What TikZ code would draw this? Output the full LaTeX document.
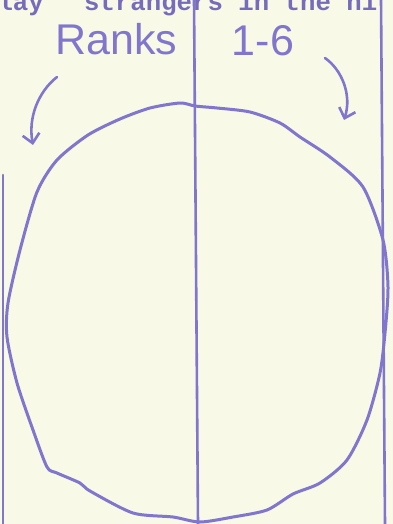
\documentclass[tikz,border=0pt]{standalone}
\usepackage{fontspec}
\usetikzlibrary{arrows.meta}
\newfontfamily\typew{Liberation Mono}
\newfontfamily\handf{Liberation Sans}
\definecolor{paper}{RGB}{249,249,232}
\definecolor{ink}{RGB}{128,118,205}
\definecolor{typeink}{RGB}{118,108,188}
\tikzset{
  rule/.style={draw=ink, line width=2.6pt, line cap=round},
  blob/.style={draw=ink, line width=3pt, line join=round},
  handarrow/.style={draw=ink, line width=2.6pt, line cap=round,
    -{Straight Barb[length=9pt,width=17pt,line width=2.6pt]}},
  typed/.style={inner sep=0pt, text=typeink, font=\typew\bfseries\fontsize{25.7}{30}\selectfont},
  hand/.style={inner sep=0pt, text=ink, font=\handf\fontsize{43}{50}\selectfont}
}
\begin{document}
\begin{tikzpicture}[x=1pt,y=-1pt]
\useasboundingbox (0,0) rectangle (393,524);
\fill[paper] (0,0) rectangle (393,524);
\clip (0,0) rectangle (393,524);
% typed line, cut at the top edge
\node[typed, anchor=base east] (t1) at (44,11) {play};
\node[typed, anchor=base west] (t2) at (84,11) {strangers in the ni};
% ruled lines
\coordinate (ltop) at (3,175);
\coordinate (lbot) at (3,524);
\coordinate (mtop) at (194,0);
\coordinate (mbot) at (198,524);
\coordinate (rtop) at (381,0);
\coordinate (rbot) at (385,524);
\draw[rule] (ltop) -- (lbot);
\draw[rule] (mtop) -- (mbot);
\draw[rule] (rtop) -- (rbot);
% hand-drawn circle
\draw[blob] plot[smooth cycle, tension=0.45] coordinates {
  (150,108) (180,103) (195,106) (217,108) (250,112) (280,123) (300,137)
  (330,157) (363,187) (383,240) (388,287) (385,333) (380,373) (367,420)
  (347,460) (320,483) (293,494) (267,510) (233,517) (200,522) (173,517)
  (133,513) (90,491) (80,483) (57,473) (47,467) (33,430) (17,383)
  (7,337) (8,303) (20,250) (37,192) (57,160) (88,135) (120,119)};
% handwriting
\node[hand, anchor=base west] (ranks) at (55,55) {Ranks};
\node[hand, anchor=base] (nums) at (263,56) {1-6};
% arrows
\coordinate (a1s) at (57,77);
\coordinate (a1e) at (33,145);
\coordinate (a2s) at (325,58);
\coordinate (a2e) at (344,120);
\draw[handarrow] (a1s) .. controls (38,92) and (28,118) .. (a1e);
\draw[handarrow] (a2s) .. controls (342,70) and (352,95) .. (a2e);
\end{tikzpicture}
\end{document}
